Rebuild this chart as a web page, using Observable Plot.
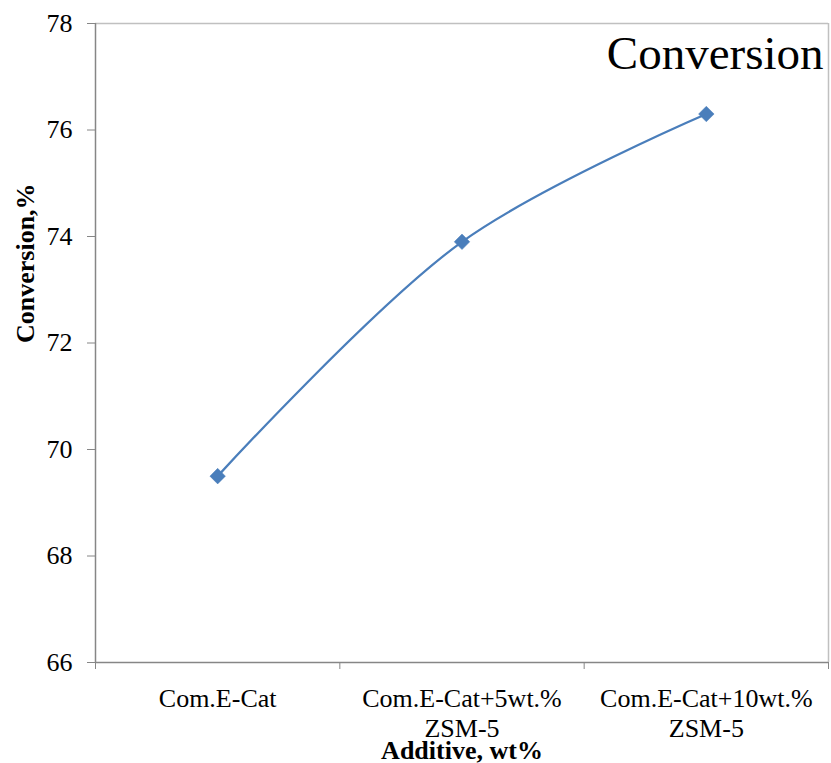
<!DOCTYPE html>
<html>
<head>
<meta charset="utf-8">
<script src="https://cdn.jsdelivr.net/npm/d3@7"></script>
<script src="https://cdn.jsdelivr.net/npm/@observablehq/plot@0.6"></script>
<style>
  html, body { margin: 0; padding: 0; background: #fff; }
  #chart svg { display: block; }
  #chart svg text { font-family: "Liberation Serif", "Times New Roman", serif; }
</style>
</head>
<body>
<div id="chart"></div>
<script>
const categories = ["Com.E-Cat", "Com.E-Cat+5wt.%\nZSM-5", "Com.E-Cat+10wt.%\nZSM-5"];
const conversion = [69.5, 73.9, 76.3];
const yTicks = [66, 68, 70, 72, 74, 76, 78];
const seriesName = "Conversion";
const xTitle = "Additive, wt%";
const yTitle = "Conversion,%";

const data = categories.map((c, i) => ({cat: c, pos: i + 0.5, value: conversion[i]}));
const xEdges = d3.range(categories.length + 1);
const font = "Liberation Serif";
const axisGray = "#868686";
const frameGray = "#c0c0c0";
const blue = "#4A7EBB";

const chart = Plot.plot({
  width: 831,
  height: 763,
  marginLeft: 95,
  marginRight: 3,
  marginTop: 23,
  marginBottom: 101,
  style: {fontFamily: font, background: "#fff", color: "#000"},
  x: {type: "linear", domain: [0, categories.length]},
  y: {domain: [yTicks[0], yTicks[yTicks.length - 1]]},
  marks: [
    Plot.ruleY([yTicks[yTicks.length - 1]], {stroke: frameGray, strokeWidth: 1.5}),
    Plot.ruleX([categories.length], {stroke: frameGray, strokeWidth: 1.5}),
    Plot.ruleX([0], {stroke: axisGray, strokeWidth: 1.5}),
    Plot.ruleY([yTicks[0]], {stroke: axisGray, strokeWidth: 1.5}),
    Plot.axisY({ticks: yTicks, tickSize: 8, tickPadding: 15, fontSize: 26, fontFamily: font, stroke: axisGray, fill: "#000", label: null, tickFormat: d => String(d)}),
    Plot.axisX({ticks: xEdges, tickSize: 7, stroke: axisGray, label: null, tickFormat: () => ""}),
    Plot.text(data, {x: "pos", text: "cat", frameAnchor: "bottom", lineAnchor: "top", dy: 23, fontSize: 26, fontFamily: font, lineHeight: 1.15, fill: "#000"}),
    Plot.text([xTitle], {frameAnchor: "bottom", lineAnchor: "bottom", dy: 96, fontSize: 26, fontFamily: font, fontWeight: "bold", fill: "#000"}),
    Plot.text([yTitle], {frameAnchor: "left", rotate: -90, lineAnchor: "top", dx: -80, fontSize: 26, fontFamily: font, fontWeight: "bold", fill: "#000"}),
    Plot.text([seriesName], {frameAnchor: "top-right", textAnchor: "end", lineAnchor: "top", dx: -5, dy: 12, fontSize: 47, fontFamily: font, fill: "#000"}),
    Plot.line(data, {x: "pos", y: "value", curve: "catmull-rom", stroke: blue, strokeWidth: 2.25}),
    Plot.dot(data, {x: "pos", y: "value", symbol: "diamond2", r: 7, fill: blue, stroke: blue, strokeWidth: 0.5})
  ]
});
document.getElementById("chart").appendChild(chart);
</script>
</body>
</html>
